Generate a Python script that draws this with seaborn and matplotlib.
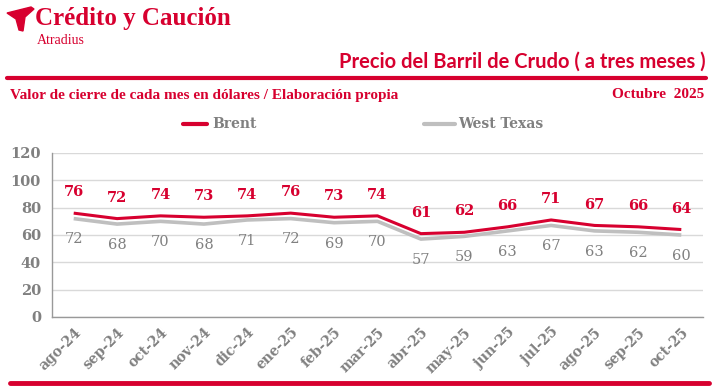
import numpy as np
import pandas as pd
import seaborn as sns
import matplotlib.pyplot as plt
from matplotlib.patches import Polygon
from matplotlib.lines import Line2D

# ---- datos ----
meses = ["ago-24", "sep-24", "oct-24", "nov-24", "dic-24", "ene-25", "feb-25", "mar-25",
         "abr-25", "may-25", "jun-25", "jul-25", "ago-25", "sep-25", "oct-25"]
brent = [76, 72, 74, 73, 74, 76, 73, 74, 61, 62, 66, 71, 67, 66, 64]
west_texas = [72, 68, 70, 68, 71, 72, 69, 70, 57, 59, 63, 67, 63, 62, 60]

ROJO = "#d7002f"
GRIS = "#bfbfbf"
GRIS_TXT = "#808080"
W, H = 717, 391

df = pd.DataFrame({"mes": meses, "x": np.arange(len(meses)),
                   "Brent": brent, "West Texas": west_texas})

sns.set_theme(style="white")
plt.rcParams["font.family"] = ["DejaVu Serif"]

fig = plt.figure(figsize=(W / 100, H / 100), dpi=100)
ax = fig.add_axes([52 / W, 1 - 317 / H, 651 / W, 164 / H])

def px(x, y):
    return (x / W, 1 - y / H)

# series
sns.lineplot(data=df, x="x", y="West Texas", ax=ax, color=GRIS, linewidth=2.6,
             solid_capstyle="butt", solid_joinstyle="round")
sns.lineplot(data=df, x="x", y="Brent", ax=ax, color=ROJO, linewidth=2.2,
             solid_capstyle="butt", solid_joinstyle="round")

for i in range(len(meses)):
    ax.annotate(str(brent[i]), (i, brent[i]), xytext=(0, 15), textcoords="offset points",
                ha="center", va="center", color=ROJO, fontsize=10.5, fontweight="bold")
    ax.annotate(str(west_texas[i]), (i, west_texas[i]), xytext=(0, -15), textcoords="offset points",
                ha="center", va="center", color=GRIS_TXT, fontsize=10.5)

# ejes
ax.set_xlim(-0.5, len(meses) - 0.5)
ax.set_ylim(0, 120)
ax.set_yticks(range(0, 121, 20))
ax.set_xticks(np.arange(len(meses)))
ax.set_xticklabels(meses, rotation=45, ha="right", rotation_mode="anchor",
                   color=GRIS_TXT, fontsize=10, fontweight="bold")
ax.set_xticks(np.arange(-0.5, len(meses), 1), minor=True)
ax.tick_params(axis="x", which="major", length=0, pad=6)
ax.tick_params(axis="x", which="minor", length=5, color="#999999", width=1)
ax.tick_params(axis="y", length=5, color="#999999", width=1, labelcolor=GRIS_TXT,
               labelsize=10.5, pad=3)
for t in ax.get_yticklabels():
    t.set_fontweight("bold")
ax.set_xlabel("")
ax.set_ylabel("")
ax.grid(axis="y", color="#d9d9d9", linewidth=1)
ax.set_axisbelow(True)
for s in ["top", "right"]:
    ax.spines[s].set_visible(False)
for s in ["left", "bottom"]:
    ax.spines[s].set_color("#999999")
    ax.spines[s].set_linewidth(1)

# cabecera
logo = Polygon([px(7, 13), px(31, 7), px(34, 9), px(25, 17), px(23, 31), px(19, 30), px(16, 19)],
               closed=True, transform=fig.transFigure, color=ROJO)
fig.patches.append(logo)
fig.text(*px(35, 19), "Crédito y Caución", color=ROJO, fontsize=18, fontweight="bold",
         family="Liberation Serif", va="center", ha="left")
fig.text(*px(37, 40), "Atradius", color=ROJO, fontsize=10, family="Liberation Serif",
         va="center", ha="left")
fig.text(*px(706, 62), "Precio del Barril de Crudo ( a tres meses )", color=ROJO,
         fontsize=14.5, fontweight="bold", family="Lato", va="center", ha="right")
fig.add_artist(Line2D([7 / W, 706 / W], [1 - 78 / H] * 2, color=ROJO, linewidth=3,
                      transform=fig.transFigure))
fig.text(*px(10, 95), "Valor de cierre de cada mes en dólares / Elaboración propia",
         color=ROJO, fontsize=11, fontweight="bold", family="Liberation Serif",
         va="center", ha="left")
fig.text(*px(704, 95), "Octubre  2025", color=ROJO, fontsize=11, fontweight="bold",
         family="Liberation Serif", va="center", ha="right")

# leyenda
fig.add_artist(Line2D([183 / W, 207 / W], [1 - 124 / H] * 2, color=ROJO, linewidth=3,
                      transform=fig.transFigure))
fig.text(*px(212, 124), "Brent", color=GRIS_TXT, fontsize=10, fontweight="bold",
         va="center", ha="left")
fig.add_artist(Line2D([424 / W, 455 / W], [1 - 124 / H] * 2, color=GRIS, linewidth=3,
                      transform=fig.transFigure))
fig.text(*px(458, 124), "West Texas", color=GRIS_TXT, fontsize=10, fontweight="bold",
         va="center", ha="left")

# línea inferior
fig.add_artist(Line2D([10 / W, 709 / W], [1 - 383 / H] * 2, color=ROJO, linewidth=3.5,
                      transform=fig.transFigure))

fig.savefig("out.png", dpi=100, facecolor="white")
